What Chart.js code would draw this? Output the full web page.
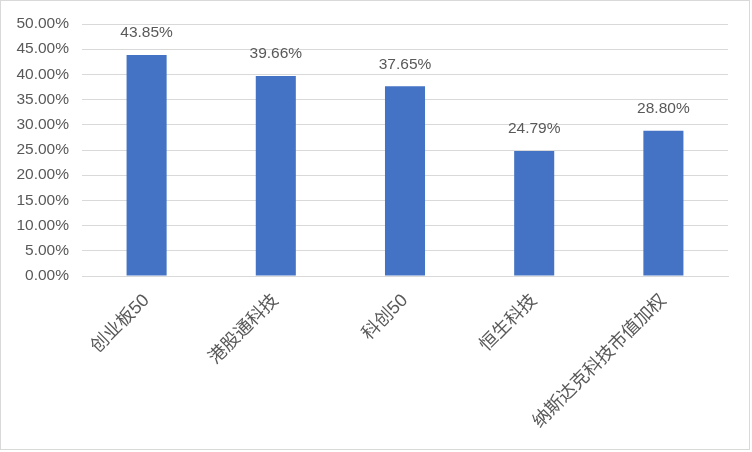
<!DOCTYPE html>
<html>
<head>
<meta charset="utf-8">
<script src="https://cdn.jsdelivr.net/npm/chart.js@4/dist/chart.umd.min.js"></script>
<style>
    body { margin: 0; background: #fff; }
    #wrap { position: relative; width: 752px; height: 452px; }
    #frame { position: absolute; left: 0; top: 0; width: 748px; height: 448px; border: 1px solid #d9d9d9; pointer-events: none; }
</style>
</head>
<body>
<div id="wrap">
    <canvas id="barChart" width="752" height="452"></canvas>
    <div id="frame"></div>
</div>
<script>
// DADOS
const categories = ['创业板50', '港股通科技', '科创50', '恒生科技', '纳斯达克科技市值加权'];
const returns = [43.85, 39.66, 37.65, 24.79, 28.80];

const fontFamily = '"Liberation Sans", Arial, "Noto Sans CJK SC", sans-serif';

// rótulos em cima das barras
const barLabels = {
    id: 'barLabels',
    afterDatasetsDraw(chart) {
        const ctx = chart.ctx;
        const meta = chart.getDatasetMeta(0);
        ctx.save();
        ctx.font = '15.5px ' + fontFamily;
        ctx.fillStyle = '#595959';
        ctx.textAlign = 'center';
        ctx.textBaseline = 'middle';
        meta.data.forEach((bar, i) => {
            ctx.fillText(returns[i].toFixed(2) + '%', bar.x, bar.y - 22);
        });
        ctx.restore();
    }
};

const ctx = document.getElementById('barChart').getContext('2d');
new Chart(ctx, {
    type: 'bar',
    data: {
        labels: categories,
        datasets: [{
            data: returns,
            backgroundColor: '#4472c4',
            categoryPercentage: 1,
            barPercentage: 0.31
        }]
    },
    options: {
        responsive: false,
        animation: false,
        layout: { padding: { top: 24, right: 24, left: 0, bottom: 0 } },
        plugins: { legend: { display: false }, tooltip: { enabled: false } },
        scales: {
            y: {
                min: 0,
                max: 50,
                afterFit: s => { s.width = 82; },
                border: { display: false },
                grid: { color: '#d9d9d9', drawTicks: false },
                ticks: {
                    stepSize: 5,
                    padding: 13,
                    color: '#595959',
                    font: { size: 15.5, family: fontFamily },
                    callback: v => v.toFixed(2) + '%'
                }
            },
            x: {
                afterFit: s => { s.height = 176; },
                border: { color: '#d9d9d9' },
                grid: { display: false },
                ticks: {
                    minRotation: 45,
                    maxRotation: 45,
                    padding: 6,
                    color: '#595959',
                    font: { size: 18, family: fontFamily }
                }
            }
        }
    },
    plugins: [barLabels]
});
</script>
</body>
</html>
